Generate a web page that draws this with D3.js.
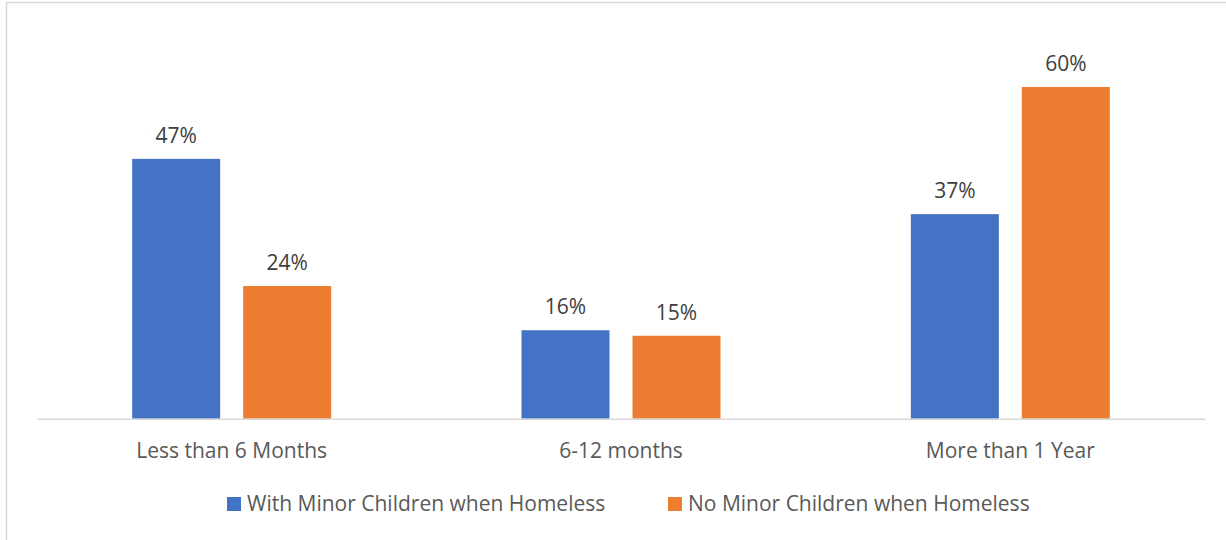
<!DOCTYPE html>
<html>
<head>
<meta charset="utf-8">
<script src="https://cdn.jsdelivr.net/npm/d3@7"></script>
<style>
  html, body { margin: 0; padding: 0; background: #fff; }
  svg { display: block; }
</style>
</head>
<body>
<svg id="chart" width="1226" height="540"></svg>
<script>
// Length of homelessness, by household type
const categories = ["Less than 6 Months", "6-12 months", "More than 1 Year"];
const seriesNames = ["With Minor Children when Homeless", "No Minor Children when Homeless"];
const withChildren = [0.47, 0.16, 0.37];
const noChildren = [0.24, 0.15, 0.60];
const seriesColors = ["#4472C4", "#ED7D31"];

const series = [withChildren, noChildren];
const font = "'Open Sans', 'Noto Sans', sans-serif";

const svg = d3.select("#chart");

// Chart frame
svg.append("rect")
  .attr("x", 6.5).attr("y", 2.5)
  .attr("width", 1400).attr("height", 700)
  .attr("fill", "none")
  .attr("stroke", "#d9d9d9")
  .attr("stroke-width", 1.5);

const plot = { left: 37, right: 1205, top: 31.7, bottom: 418.7 };

const x = d3.scaleBand()
  .domain(categories)
  .range([plot.left, plot.right])
  .paddingInner(0).paddingOuter(0);

// Two bars per category: 88px wide, 23px apart
const barW = 88, barGap = 23;
const groupW = barW * 2 + barGap;
const xs = d3.scaleBand()
  .domain(d3.range(series.length))
  .range([0, groupW])
  .paddingInner(barGap / (barW + barGap))
  .paddingOuter(0);

const y = d3.scaleLinear()
  .domain([0, 0.7])
  .range([plot.bottom, plot.top]);

const groups = svg.append("g").selectAll("g")
  .data(categories)
  .join("g")
  .attr("transform", (d) => `translate(${x(d) + (x.bandwidth() - groupW) / 2},0)`);

series.forEach((vals, si) => {
  groups.append("rect")
    .attr("x", xs(si))
    .attr("width", xs.bandwidth())
    .attr("y", (d, i) => y(vals[i]))
    .attr("height", (d, i) => y(0) - y(vals[i]))
    .attr("fill", seriesColors[si]);

  groups.append("text")
    .attr("x", xs(si) + xs.bandwidth() / 2)
    .attr("y", (d, i) => y(vals[i]) - 16)
    .attr("text-anchor", "middle")
    .attr("font-family", font)
    .attr("font-size", 21)
    .attr("fill", "#404040")
    .text((d, i) => d3.format(".0%")(vals[i]));
});

// Category axis
const axis = svg.append("g")
  .attr("transform", `translate(0,${plot.bottom})`)
  .call(d3.axisBottom(x).tickSize(0).tickPadding(0));
axis.select(".domain").attr("stroke", "#d9d9d9").attr("stroke-width", 1.5);
axis.selectAll("text")
  .attr("dy", null)
  .attr("y", 39)
  .attr("font-family", font)
  .attr("font-size", 21)
  .attr("fill", "#595959");

// Legend
const legendX = [227, 668];
const legend = svg.append("g").selectAll("g")
  .data(seriesNames)
  .join("g")
  .attr("transform", (d, i) => `translate(${legendX[i]},497)`);
legend.append("rect")
  .attr("width", 14).attr("height", 14)
  .attr("fill", (d, i) => seriesColors[i]);
legend.append("text")
  .attr("x", 20).attr("y", 13.5)
  .attr("font-family", font)
  .attr("font-size", 21)
  .attr("fill", "#595959")
  .text((d) => d);
</script>
</body>
</html>
